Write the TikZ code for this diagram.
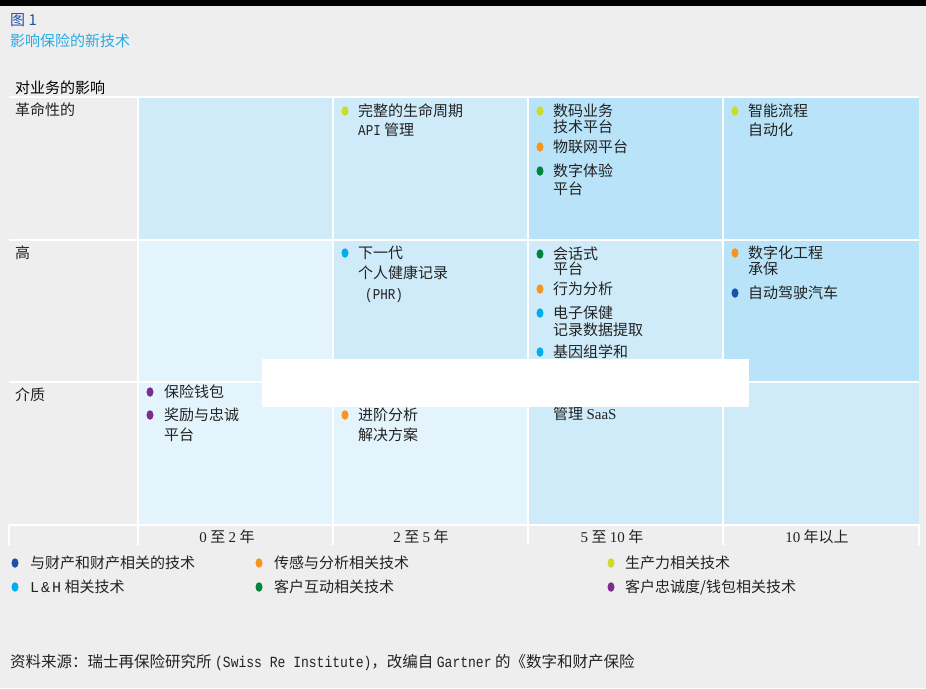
\documentclass[tikz,border=0pt]{standalone}
\usepackage{fontspec}
\setmainfont{Noto Sans CJK SC}
\newfontfamily\serifl{Liberation Serif}
\newfontfamily\monol[FakeStretch=0.84]{Liberation Mono}
\newfontfamily\monob{Liberation Mono}
\usetikzlibrary{shapes.geometric}
\definecolor{bg}{HTML}{EEEEEE}
\definecolor{cA}{HTML}{E3F4FC}
\definecolor{cB}{HTML}{CFEBF9}
\definecolor{cC}{HTML}{B9E3F8}
\definecolor{pc}{HTML}{1A52A8}
\definecolor{sa}{HTML}{F7941D}
\definecolor{pr}{HTML}{CDDC29}
\definecolor{lh}{HTML}{00AEEF}
\definecolor{ci}{HTML}{00843D}
\definecolor{cl}{HTML}{7B2C8E}
\definecolor{txt}{HTML}{222222}
\definecolor{ttlA}{HTML}{2350A8}
\definecolor{ttlB}{HTML}{29ABE2}
\begin{document}
\begin{tikzpicture}[x=1pt,y=-1pt,
  dot/.style={ellipse, minimum width=7pt, minimum height=9.5pt, inner sep=0pt, draw=none},
  lbl/.style={anchor=west, inner sep=0pt, text height=12pt, text depth=2pt, font=\fontsize{15}{16}\selectfont, text=txt},
  axl/.style={lbl, anchor=center},
  grid/.style={white, line width=1.5pt}]
\useasboundingbox (0,0) rectangle (926,688);
\fill[bg] (0,0) rectangle (926,688);
\fill[black] (0,0) rectangle (926,5.5);
% title
\node[lbl, text=ttlA] (ttl1) at (10,20) {图 1};
\node[lbl, text=ttlB] (ttl2) at (10,41) {影响保险的新技术};
\node[lbl, text=black] (yax) at (15,88) {对业务的影响};
% cells
\fill[cB] (138,97) rectangle (528,240);
\fill[cC] (528,97) rectangle (919,240);
\fill[cA] (138,240) rectangle (333,382);
\fill[cB] (333,240) rectangle (723,382);
\fill[cC] (723,240) rectangle (919,382);
\fill[cA] (138,382) rectangle (528,525);
\fill[cB] (528,382) rectangle (919,525);
% grid
\foreach \yy in {97,240,382,525} \draw[grid] (9,\yy) -- (919,\yy);
\foreach \xx in {138,333,528,723} \draw[grid] (\xx,97) -- (\xx,545);
\foreach \xx in {9,919} \draw[grid] (\xx,525) -- (\xx,545);
% row labels
\node[lbl] (r1) at (15,110) {革命性的};
\node[lbl] (r2) at (15,253) {高};
\node[lbl] (r3) at (15,395) {介质};
% row 1
\node[dot,fill=pr] (d1) at (345,111) {};
\node[lbl] (t1a) at (358,111) {完整的生命周期};
\node[lbl] (t1b) at (358,130) {{\monol API} 管理};
\node[dot,fill=pr] (d2) at (540,111) {};
\node[lbl] (t2a) at (553,111) {数码业务};
\node[lbl] (t2b) at (553,127) {技术平台};
\node[dot,fill=sa] (d3) at (540,147) {};
\node[lbl] (t3) at (553,147) {物联网平台};
\node[dot,fill=ci] (d4) at (540,171) {};
\node[lbl] (t4a) at (553,171) {数字体验};
\node[lbl] (t4b) at (553,189) {平台};
\node[dot,fill=pr] (d5) at (735,111) {};
\node[lbl] (t5a) at (748,111) {智能流程};
\node[lbl] (t5b) at (748,130) {自动化};
% row 2
\node[dot,fill=lh] (d6) at (345,253) {};
\node[lbl] (t6a) at (358,253) {下一代};
\node[lbl] (t6b) at (358,273) {个人健康记录};
\node[lbl] (t6c) at (365,294) {\monol (PHR)};
\node[dot,fill=ci] (d7) at (540,254) {};
\node[lbl] (t7a) at (553,254) {会话式};
\node[lbl] (t7b) at (553,269) {平台};
\node[dot,fill=sa] (d8) at (540,289) {};
\node[lbl] (t8) at (553,289) {行为分析};
\node[dot,fill=lh] (d9) at (540,313) {};
\node[lbl] (t9a) at (553,313) {电子保健};
\node[lbl] (t9b) at (553,330) {记录数据提取};
\node[dot,fill=lh] (d10) at (540,352) {};
\node[lbl] (t10a) at (553,352) {基因组学和};
\node[lbl] (t10b) at (553,414) {管理 {\serifl SaaS}};
\node[dot,fill=sa] (d11) at (735,253) {};
\node[lbl] (t11a) at (748,253) {数字化工程};
\node[lbl] (t11b) at (748,269) {承保};
\node[dot,fill=pc] (d12) at (735,293) {};
\node[lbl] (t12) at (748,293) {自动驾驶汽车};
% row 3
\node[dot,fill=cl] (d13) at (150,392) {};
\node[lbl] (t13) at (164,392) {保险钱包};
\node[dot,fill=cl] (d14) at (150,415) {};
\node[lbl] (t14a) at (164,415) {奖励与忠诚};
\node[lbl] (t14b) at (164,435) {平台};
\node[dot,fill=sa] (d15) at (345,415) {};
\node[lbl] (t15a) at (358,415) {进阶分析};
\node[lbl] (t15b) at (358,435) {解决方案};
% occluding box
\fill[white] (262,359) rectangle (749,407);
% axis
\node[axl] (a1) at (227,537) {{\serifl 0} 至 {\serifl 2} 年};
\node[axl] (a2) at (421,537) {{\serifl 2} 至 {\serifl 5} 年};
\node[axl] (a3) at (612,537) {{\serifl 5} 至 {\serifl 10} 年};
\node[axl] (a4) at (817,537) {{\serifl 10} 年以上};
% legend
\node[dot,fill=pc] (l1) at (15,563) {};
\node[lbl] (lt1) at (30,563) {与财产和财产相关的技术};
\node[dot,fill=sa] (l2) at (259,563) {};
\node[lbl] (lt2) at (274,563) {传感与分析相关技术};
\node[dot,fill=pr] (l3) at (611,563) {};
\node[lbl] (lt3) at (625,563) {生产力相关技术};
\node[dot,fill=lh] (l4) at (15,587) {};
\node[lbl] (lt4) at (30,587) {{\monob L\hspace{2pt}\&\hspace{2pt}H} 相关技术};
\node[dot,fill=ci] (l5) at (259,587) {};
\node[lbl] (lt5) at (274,587) {客户互动相关技术};
\node[dot,fill=cl] (l6) at (611,587) {};
\node[lbl] (lt6) at (625,587) {客户忠诚度/钱包相关技术};
% source
\node[lbl, font=\fontsize{15.5}{16}\selectfont] (src) at (10,662) {资料来源：瑞士再保险研究所 {\monol (Swiss Re Institute)}，改编自 {\monol Gartner} 的《数字和财产保险};
\end{tikzpicture}
\end{document}
